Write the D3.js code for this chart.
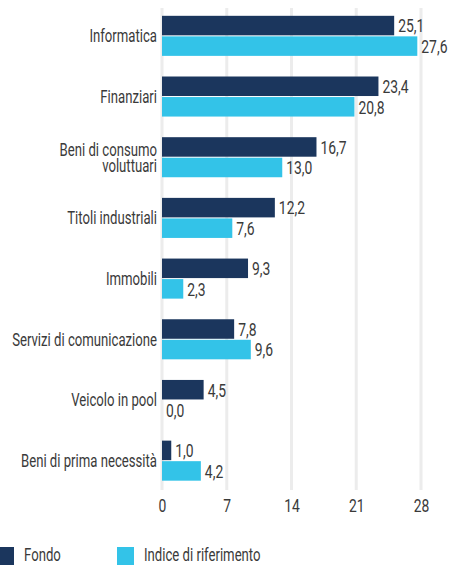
<!DOCTYPE html>
<html><head><meta charset="utf-8">
<script src="https://cdn.jsdelivr.net/npm/d3@7"></script>
<style>
body{margin:0;background:#fff;}
text{font-family:Roboto,"Noto Sans",sans-serif;fill:#3a3a3a;}
</style></head>
<body>
<svg id="c" width="451" height="565"></svg>
<script>
const categories = ["Informatica","Finanziari","Beni di consumo\nvoluttuari","Titoli industriali","Immobili","Servizi di comunicazione","Veicolo in pool","Beni di prima necessità"];
const fondo = [25.1,23.4,16.7,12.2,9.3,7.8,4.5,1.0];
const indice = [27.6,20.8,13.0,7.6,2.3,9.6,0.0,4.2];
const seriesNames = ["Fondo","Indice di riferimento"];
const tickValues = [0,7,14,21,28];
const colors = ["#1b365d","#33c3e8"];

const svg = d3.select("#c");
const FS = 18;

// measure condensed factor: reference label "Servizi di comunicazione" is ~145px wide
const probe = svg.append("text").style("font-size",FS+"px").text("Servizi di comunicazione");
const sx = 145 / probe.node().getComputedTextLength();
probe.remove();

function ctext(parent, x0, y0, str, anchor, size){
  const gg = parent.append("g").attr("transform",`translate(${x0},${y0}) scale(${sx},1)`);
  return gg.append("text").attr("x",0).attr("y",0).attr("dy","0.36em")
    .attr("text-anchor",anchor||"start").style("font-size",(size||FS)+"px").text(str);
}

const x = d3.scaleLinear().domain([0,28]).range([162,421]);
const y = d3.scaleBand().domain(categories).range([5.5,491]).paddingInner(0.34).paddingOuter(0.17);
const ySub = d3.scaleBand().domain(seriesNames).range([0,y.bandwidth()]).paddingInner(0.05);

// gridlines
svg.append("g").selectAll("line").data(tickValues).join("line")
  .attr("x1",d=>x(d)).attr("x2",d=>x(d)).attr("y1",8).attr("y2",490)
  .attr("stroke","#ececec").attr("stroke-width",3);

// axis labels via d3 axis, then condensed
const ax = svg.append("g").attr("transform","translate(0,490)")
  .call(d3.axisBottom(x).tickValues(tickValues).tickSize(0).tickPadding(0).tickFormat(d=>d));
ax.select(".domain").remove();
ax.selectAll(".tick text").remove();
ax.selectAll(".tick").each(function(d){
  ctext(d3.select(this), 0, 15, String(d), "middle", 19);
});

const data = categories.map((c,i)=>({cat:c, vals:[fondo[i],indice[i]]}));
const fmt = v => v.toFixed(1).replace(".",",");

const g = svg.append("g").selectAll("g").data(data).join("g")
  .attr("transform",d=>`translate(0,${y(d.cat)})`);
g.selectAll("rect").data(d=>d.vals.map((v,j)=>({v,j}))).join("rect")
  .attr("x",x(0)).attr("y",d=>ySub(seriesNames[d.j]))
  .attr("width",d=>x(d.v)-x(0)).attr("height",ySub.bandwidth())
  .attr("fill",d=>colors[d.j]);
g.each(function(d){
  const sel = d3.select(this);
  d.vals.forEach((v,j)=>{
    ctext(sel, x(v)+4, ySub(seriesNames[j])+ySub.bandwidth()/2, fmt(v), "start", 19);
  });
  const lines = d.cat.split("\n");
  const mid = y.bandwidth()/2;
  const lh = 16;
  const gg = sel.append("g").attr("transform",`translate(157,${mid}) scale(${sx},1)`);
  const t = gg.append("text").attr("text-anchor","end").style("font-size",FS+"px");
  lines.forEach((l,k)=>{
    t.append("tspan").attr("x",0).attr("y",(k-(lines.length-1)/2)*lh).attr("dy","0.36em").text(l);
  });
});

// legend
const leg = svg.append("g");
const legX = [-3,117];
seriesNames.forEach((s,i)=>{
  leg.append("rect").attr("x",legX[i]).attr("y",547).attr("width",17).attr("height",18).attr("fill",colors[i]);
  ctext(leg, legX[i]+27, 554.5, s, "start", FS);
});
</script>
</body></html>
